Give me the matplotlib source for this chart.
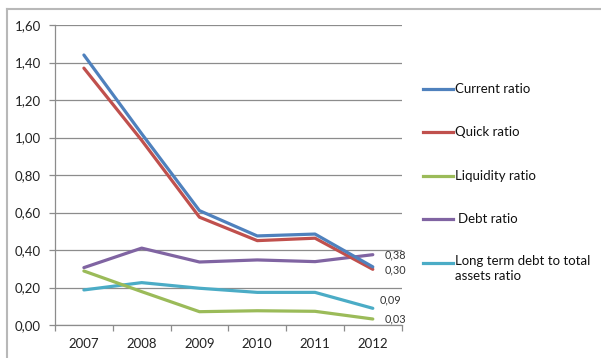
import matplotlib
matplotlib.use("Agg")
import matplotlib.pyplot as plt
from matplotlib.lines import Line2D
import numpy as np

years = ["2007", "2008", "2009", "2010", "2011", "2012"]
current_ratio = [1.44, 1.02, 0.61, 0.475, 0.485, 0.31]
quick_ratio = [1.37, 0.985, 0.575, 0.45, 0.463, 0.297]
liquidity_ratio = [0.288, 0.178, 0.071, 0.076, 0.073, 0.032]
debt_ratio = [0.306, 0.41, 0.336, 0.347, 0.338, 0.375]
lt_debt_ratio = [0.187, 0.226, 0.196, 0.174, 0.174, 0.089]

series_names = ["Current ratio", "Quick ratio", "Liquidity ratio", "Debt ratio",
                "Long term debt to total\nassets ratio"]
colors = ["#4F81BD", "#C0504D", "#9BBB59", "#8064A2", "#4BACC6"]
end_labels = {2: "0,03", 3: "0,38", 1: "0,30", 4: "0,09"}

plt.rcParams['font.family'] = ['Lato', 'DejaVu Sans']

W, H = 601, 358
fig = plt.figure(figsize=(W / 100, H / 100), dpi=100)
ax = fig.add_axes([55 / W, 1 - 325 / H, (401.7 - 55) / W, 300 / H])

x = np.arange(len(years))
data = [current_ratio, quick_ratio, liquidity_ratio, debt_ratio, lt_debt_ratio]
draw_order = [4, 2, 3, 1, 0]
for i in draw_order:
    ax.plot(x, data[i], color=colors[i], lw=2.3, solid_capstyle='round', zorder=3)

# data labels at the last point
offsets = {3: (12, 0), 1: (12, -1), 4: (7, 8), 2: (12, 0)}
for i, lab in end_labels.items():
    ax.annotate(lab, (x[-1], data[i][-1]), xytext=offsets[i], textcoords='offset pixels',
                ha='left', va='center', fontsize=7.8, color='#333333')

ax.set_xlim(-0.5, 5.5)
ax.set_ylim(0, 1.6)
yt = np.arange(0, 1.61, 0.2)
ax.set_yticks(yt)
ax.set_yticklabels([f"{v:.2f}".replace('.', ',') for v in yt])
ax.yaxis.grid(True, color='#8c8c8c', lw=0.9)
ax.set_axisbelow(True)

ax.set_xticks(np.arange(-0.5, 6, 1))
ax.set_xticklabels([])
ax.set_xticks(x, minor=True)
ax.set_xticklabels(years, minor=True)
ax.tick_params(axis='x', which='minor', length=0, pad=9, labelsize=9.5, labelcolor='#222222')
ax.tick_params(axis='x', which='major', length=4, color='#8c8c8c', width=0.9)
ax.tick_params(axis='y', length=4, color='#8c8c8c', width=0.9, pad=6, labelsize=9.5,
               labelcolor='#222222')

for s in ['top', 'right']:
    ax.spines[s].set_visible(False)
for s in ['left', 'bottom']:
    ax.spines[s].set_color('#8c8c8c')
    ax.spines[s].set_linewidth(0.9)

# legend drawn manually
leg_y = [89, 132, 176, 219, 263]
for i, (name, c, yy) in enumerate(zip(series_names, colors, leg_y)):
    fy = 1 - yy / H
    fig.add_artist(Line2D([423 / W, 453 / W], [fy, fy], color=c, lw=2.3,
                          transform=fig.transFigure))
    tx = 458 / W if i == 3 else 455 / W
    if '\n' in name:
        fig.text(tx, 1 - (yy - 8) / H, name, ha='left', va='top', fontsize=9.5,
                 color='#111111', linespacing=1.3)
    else:
        fig.text(tx, fy, name, ha='left', va='center', fontsize=9.5, color='#111111')

# chart area border
fig.add_artist(Line2D([7 / W, 7 / W], [0, 1 - 9 / H], color='#b8b8b8', lw=1.5,
                      transform=fig.transFigure))
fig.add_artist(Line2D([7 / W, 1], [1 - 9 / H, 1 - 9 / H], color='#b8b8b8', lw=1.5,
                      transform=fig.transFigure))

fig.savefig("out.png", dpi=100)
